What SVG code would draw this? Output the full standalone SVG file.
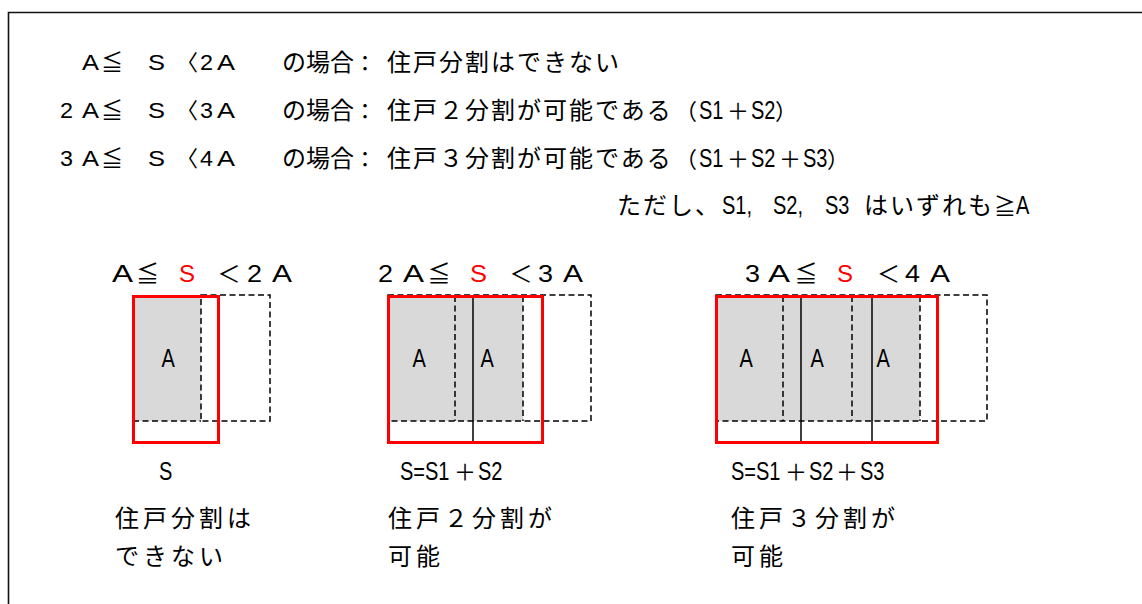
<svg xmlns="http://www.w3.org/2000/svg" width="1142" height="604" viewBox="0 0 1142 604">
<style>
.j{font-family:"Noto Sans CJK JP",sans-serif;font-size:24px;fill:#000;letter-spacing:2px}
.j0{font-family:"Noto Sans CJK JP",sans-serif;font-size:24px;fill:#000}
.jb{font-family:"Noto Sans CJK JP",sans-serif;font-size:24px;fill:#000;letter-spacing:4px}
.c{font-family:"Noto Sans CJK JP",sans-serif;font-size:22px;fill:#000;text-anchor:middle}
.cl{font-family:"Noto Sans CJK JP",sans-serif;font-size:23px;fill:#000;text-anchor:middle}
.L{font-family:"Liberation Sans",sans-serif;font-size:22px;fill:#000}
.LL{font-family:"Liberation Sans",sans-serif;font-size:23px;fill:#000}
.n{font-family:"Liberation Sans","Noto Sans CJK JP",sans-serif;font-size:25px;fill:#000}
.r{fill:#f00}
.dash{fill:none;stroke:#000;stroke-width:1.5;stroke-dasharray:6 3.5}
.red{fill:none;stroke:#f00;stroke-width:3}
.sol{stroke:#000;stroke-width:1.5;fill:none}
.gray{fill:#d9d9d9}
</style>
<rect width="1142" height="604" fill="#fff"/>
<path d="M8.5 604 V12.5 H1142" fill="none" stroke="#111" stroke-width="1.6"/>

<g id="header">
  <g id="line1">
    <text class="L" x="82" y="70" textLength="17" lengthAdjust="spacingAndGlyphs">A</text>
    <text class="c" x="112" y="70">≦</text>
    <text class="L" x="148" y="70" textLength="17" lengthAdjust="spacingAndGlyphs">S</text>
    <text class="c" x="187" y="70">〈</text>
    <text class="L" x="200" y="70" textLength="13" lengthAdjust="spacingAndGlyphs">2</text>
    <text class="L" x="217" y="70" textLength="18" lengthAdjust="spacingAndGlyphs">A</text>
    <text class="j0" x="282" y="71">の場合</text>
    <text class="c" x="365" y="71">：</text>
    <text class="j" x="387" y="71">住戸分割はできない</text>
  </g>
  <g id="line2">
    <text class="L" x="60" y="118" textLength="13" lengthAdjust="spacingAndGlyphs">2</text>
    <text class="L" x="82" y="118" textLength="17" lengthAdjust="spacingAndGlyphs">A</text>
    <text class="c" x="112" y="118">≦</text>
    <text class="L" x="148" y="118" textLength="17" lengthAdjust="spacingAndGlyphs">S</text>
    <text class="c" x="187" y="118">〈</text>
    <text class="L" x="200" y="118" textLength="13" lengthAdjust="spacingAndGlyphs">3</text>
    <text class="L" x="217" y="118" textLength="18" lengthAdjust="spacingAndGlyphs">A</text>
    <text class="j0" x="282" y="119">の場合</text>
    <text class="c" x="365" y="119">：</text>
    <text class="j" x="387" y="119">住戸２分割が可能である</text>
    <text class="c" x="686" y="119">（</text>
    <text class="n" transform="translate(699 119) scale(0.8 1)">S1</text>
    <text class="c" x="738" y="119">＋</text>
    <text class="n" transform="translate(751 119) scale(0.8 1)">S2</text>
    <text class="c" x="786" y="119">）</text>
  </g>
  <g id="line3">
    <text class="L" x="60" y="166" textLength="13" lengthAdjust="spacingAndGlyphs">3</text>
    <text class="L" x="82" y="166" textLength="17" lengthAdjust="spacingAndGlyphs">A</text>
    <text class="c" x="112" y="166">≦</text>
    <text class="L" x="148" y="166" textLength="17" lengthAdjust="spacingAndGlyphs">S</text>
    <text class="c" x="187" y="166">〈</text>
    <text class="L" x="200" y="166" textLength="13" lengthAdjust="spacingAndGlyphs">4</text>
    <text class="L" x="217" y="166" textLength="18" lengthAdjust="spacingAndGlyphs">A</text>
    <text class="j0" x="282" y="167">の場合</text>
    <text class="c" x="365" y="167">：</text>
    <text class="j" x="387" y="167">住戸３分割が可能である</text>
    <text class="c" x="686" y="167">（</text>
    <text class="n" transform="translate(699 167) scale(0.8 1)">S1</text>
    <text class="c" x="738" y="167">＋</text>
    <text class="n" transform="translate(751 167) scale(0.8 1)">S2</text>
    <text class="c" x="790" y="167">＋</text>
    <text class="n" transform="translate(803 167) scale(0.8 1)">S3</text>
    <text class="c" x="838" y="167">）</text>
  </g>
  <g id="note">
    <text class="j" x="617" y="214">ただし、</text>
    <text class="n" transform="translate(722 214) scale(0.8 1)">S1,</text>
    <text class="n" transform="translate(773 214) scale(0.8 1)">S2,</text>
    <text class="n" transform="translate(825 214) scale(0.8 1)">S3</text>
    <text class="j" x="864" y="214">はいずれも</text>
    <text class="c" x="1005" y="214">≧</text>
    <text class="n" transform="translate(1016 214) scale(0.8 1)">A</text>
  </g>
</g>

<g id="case1">
  <rect class="gray" x="133" y="296" width="68" height="125"/>
  <rect class="dash" x="201" y="295" width="69" height="126"/>
  <path class="dash" d="M133 421 H201"/>
  <rect class="red" x="133.5" y="296.5" width="85" height="146"/>
  <text class="n" transform="translate(161.4 367) scale(0.8 1)">A</text>
  <text class="LL" x="112" y="282" textLength="21" lengthAdjust="spacingAndGlyphs">A</text>
  <text class="cl" x="147.5" y="282">≦</text>
  <text class="LL r" x="179" y="282" textLength="16" lengthAdjust="spacingAndGlyphs">S</text>
  <text class="cl" x="229" y="282">＜</text>
  <text class="LL" x="247" y="282" textLength="15" lengthAdjust="spacingAndGlyphs">2</text>
  <text class="LL" x="272" y="282" textLength="20" lengthAdjust="spacingAndGlyphs">A</text>
  <text class="n" transform="translate(159 480) scale(0.8 1)">S</text>
  <text class="jb" x="115" y="527">住戸分割は</text>
  <text class="jb" x="115" y="565">できない</text>
</g>

<g id="case2">
  <rect class="gray" x="388" y="296" width="135" height="125"/>
  <rect class="dash" x="388" y="295" width="203" height="126"/>
  <path class="dash" d="M455 296 V421 M523 296 V421"/>
  <path class="sol" d="M473 296 V443"/>
  <rect class="red" x="388.5" y="296.5" width="154" height="146"/>
  <text class="n" transform="translate(412.4 367) scale(0.8 1)">A</text>
  <text class="n" transform="translate(480.4 367) scale(0.8 1)">A</text>
  <text class="LL" x="378" y="282" textLength="15" lengthAdjust="spacingAndGlyphs">2</text>
  <text class="LL" x="403" y="282" textLength="21" lengthAdjust="spacingAndGlyphs">A</text>
  <text class="cl" x="439" y="282">≦</text>
  <text class="LL r" x="470" y="282" textLength="17" lengthAdjust="spacingAndGlyphs">S</text>
  <text class="cl" x="521" y="282">＜</text>
  <text class="LL" x="538" y="282" textLength="15" lengthAdjust="spacingAndGlyphs">3</text>
  <text class="LL" x="563" y="282" textLength="20" lengthAdjust="spacingAndGlyphs">A</text>
  <text class="n" transform="translate(400 480) scale(0.8 1)">S=S1</text>
  <text class="c" x="465" y="480">＋</text>
  <text class="n" transform="translate(478 480) scale(0.8 1)">S2</text>
  <text class="jb" x="388" y="527">住戸２分割が</text>
  <text class="jb" x="388" y="565">可能</text>
</g>

<g id="case3">
  <rect class="gray" x="716" y="296" width="204" height="125"/>
  <rect class="dash" x="716" y="295" width="271" height="126"/>
  <path class="dash" d="M783 296 V421 M852 296 V421 M920 296 V421"/>
  <path class="sol" d="M801 296 V443 M872 296 V443"/>
  <rect class="red" x="716.5" y="296.5" width="221" height="146"/>
  <text class="n" transform="translate(739.4 367) scale(0.8 1)">A</text>
  <text class="n" transform="translate(810.4 367) scale(0.8 1)">A</text>
  <text class="n" transform="translate(876.4 367) scale(0.8 1)">A</text>
  <text class="LL" x="745" y="282" textLength="15" lengthAdjust="spacingAndGlyphs">3</text>
  <text class="LL" x="768" y="282" textLength="22" lengthAdjust="spacingAndGlyphs">A</text>
  <text class="cl" x="806" y="282">≦</text>
  <text class="LL r" x="837" y="282" textLength="16" lengthAdjust="spacingAndGlyphs">S</text>
  <text class="cl" x="888.5" y="282">＜</text>
  <text class="LL" x="905" y="282" textLength="15" lengthAdjust="spacingAndGlyphs">4</text>
  <text class="LL" x="930" y="282" textLength="20" lengthAdjust="spacingAndGlyphs">A</text>
  <text class="n" transform="translate(731 480) scale(0.8 1)">S=S1</text>
  <text class="c" x="796" y="480">＋</text>
  <text class="n" transform="translate(809 480) scale(0.8 1)">S2</text>
  <text class="c" x="847" y="480">＋</text>
  <text class="n" transform="translate(860 480) scale(0.8 1)">S3</text>
  <text class="jb" x="731" y="527">住戸３分割が</text>
  <text class="jb" x="731" y="565">可能</text>
</g>
</svg>
